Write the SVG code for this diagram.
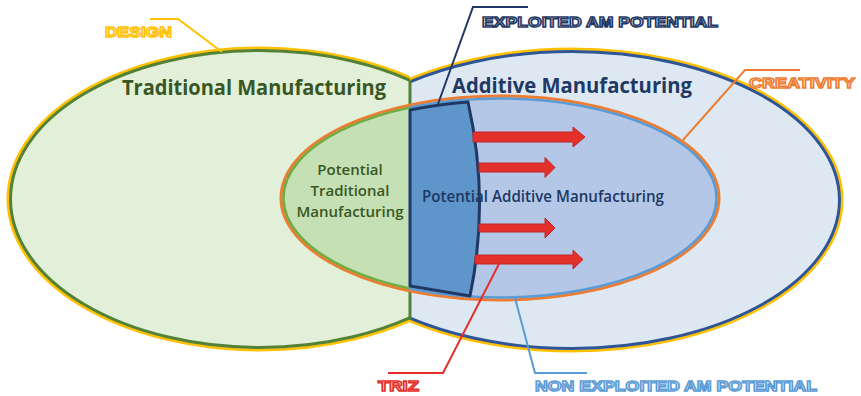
<svg xmlns="http://www.w3.org/2000/svg" width="861" height="396" viewBox="0 0 861 396">
<style>
.lbl{font-family:"Liberation Sans",Arial,sans-serif;font-weight:bold;font-size:15.5px;fill:#fff;stroke-width:1.5}
.main{font-family:"Open Sans","Noto Sans",sans-serif;font-weight:bold}
.lead{fill:none;stroke-width:2}
.arrow{fill:#E3302A;stroke:#C0282A;stroke-width:1}
</style>
<defs>
<clipPath id="cl"><rect x="0" y="0" width="410" height="396"/></clipPath>
<clipPath id="cr"><rect x="410" y="0" width="451" height="396"/></clipPath>
</defs>
<rect width="861" height="396" fill="#fff"/>
<g id="traditional">
<ellipse cx="260" cy="199" rx="252" ry="151" fill="none" stroke="#FFC000" stroke-width="3" clip-path="url(#cl)"/>
<ellipse cx="260" cy="199" rx="249.5" ry="148.5" fill="#E2F0D9" stroke="#538135" stroke-width="3" clip-path="url(#cl)"/>
<text class="main" x="122" y="95" font-size="22" fill="#385723" textLength="264" lengthAdjust="spacingAndGlyphs">Traditional Manufacturing</text>
</g>
<g id="additive">
<ellipse cx="572" cy="200" rx="270" ry="151" fill="none" stroke="#FFC000" stroke-width="3" clip-path="url(#cr)"/>
<ellipse cx="572" cy="200" rx="267.5" ry="148.5" fill="#DEE8F3" stroke="#2F5597" stroke-width="3" clip-path="url(#cr)"/>
<text class="main" x="452" y="93" font-size="22" fill="#203864" textLength="240" lengthAdjust="spacingAndGlyphs">Additive Manufacturing</text>
</g>
<line x1="410" y1="80" x2="410" y2="320" stroke="#538135" stroke-width="3"/>
<g id="potential">
<ellipse cx="500" cy="198" rx="219" ry="102" fill="none" stroke="#ED7D31" stroke-width="3"/>
<ellipse cx="500" cy="198" rx="216.5" ry="99.5" fill="#C5E0B4" stroke="#70AD47" stroke-width="2.5" clip-path="url(#cl)"/>
<ellipse cx="500" cy="198" rx="216.5" ry="99.5" fill="#B4C7E7" stroke="#5B9BD5" stroke-width="2.5" clip-path="url(#cr)"/>
<text class="main" font-size="15" fill="#385723" text-anchor="middle" style="font-weight:600"><tspan x="350" y="175">Potential</tspan><tspan x="350" y="196">Traditional</tspan><tspan x="350" y="217">Manufacturing</tspan></text>
</g>
<g id="exploited">
<path d="M410,110 Q440,104 468,102 Q490,200 470,296 Q440,291 410,286 Z" fill="#5E95CA" stroke="#1F3864" stroke-width="3" stroke-linejoin="round"/>
</g>
<text class="main" x="422" y="202" font-size="16.5" fill="#203864" style="font-weight:600" textLength="242" lengthAdjust="spacingAndGlyphs">Potential Additive Manufacturing</text>
<g id="arrows">
<path class="arrow" d="M473,132 H573 V127 L585,137 L573,147 V142 H473 Z"/>
<path class="arrow" d="M479,163 H545 V157.5 L555,167.5 L545,177.5 V172 H479 Z"/>
<path class="arrow" d="M479,224 H545 V218 L555,228 L545,238 V232 H479 Z"/>
<path class="arrow" d="M475,255 H573 V250 L583,259.5 L573,269 V264 H475 Z"/>
</g>
<g id="connectors">
<polyline class="lead" stroke="#FFC000" points="150,19 178,19 222,52"/>
<polyline class="lead" stroke="#1F3864" points="528,7 473,7 438,104"/>
<polyline class="lead" stroke="#ED7D31" points="800,70 745,70 683,140"/>
<polyline class="lead" stroke="#E3302A" points="388,373 443,373 500,262"/>
<polyline class="lead" stroke="#5B9BD5" points="587,373 535,373 515,298"/>
</g>
<g id="labels">
<text class="lbl" x="105" y="37" stroke="#FFC000" textLength="67" lengthAdjust="spacingAndGlyphs">DESIGN</text>
<text class="lbl" x="482" y="27" stroke="#1F3864" textLength="236" lengthAdjust="spacingAndGlyphs">EXPLOITED AM POTENTIAL</text>
<text class="lbl" x="749" y="88" stroke="#ED7D31" textLength="106" lengthAdjust="spacingAndGlyphs">CREATIVITY</text>
<text class="lbl" x="378" y="391" stroke="#E3302A" textLength="41" lengthAdjust="spacingAndGlyphs">TRIZ</text>
<text class="lbl" x="535" y="391" stroke="#5B9BD5" textLength="282" lengthAdjust="spacingAndGlyphs">NON EXPLOITED AM POTENTIAL</text>
</g>
</svg>
